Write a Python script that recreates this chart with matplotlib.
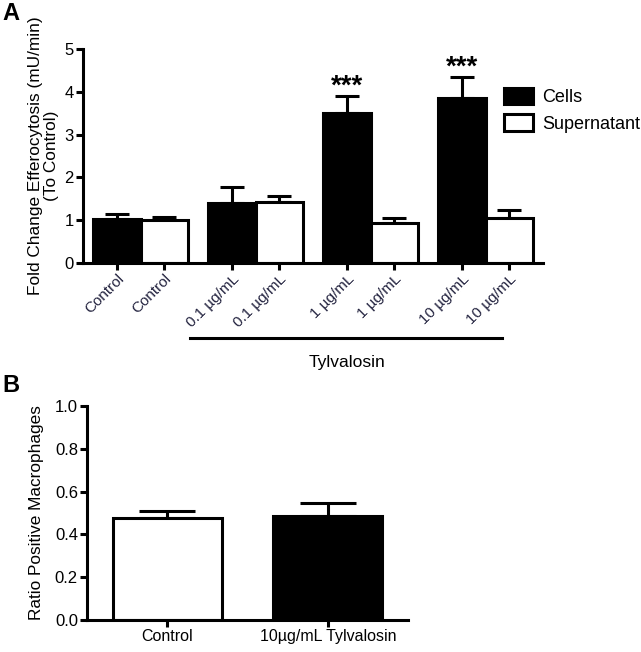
import matplotlib
matplotlib.use("Agg")
import matplotlib.pyplot as plt
import numpy as np

plt.rcParams['font.family'] = ['Liberation Sans', 'DejaVu Sans']

# Panel A data
groups = ["Control", "0.1 \u00b5g/mL", "1 \u00b5g/mL", "10 \u00b5g/mL"]
cells = [1.02, 1.40, 3.50, 3.86]
cells_err = [0.12, 0.38, 0.40, 0.49]
super_vals = [1.00, 1.42, 0.93, 1.05]
super_err = [0.08, 0.15, 0.12, 0.18]
stars = ["", "", "***", "***"]

# Panel B data
b_cats = ["Control", "10\u00b5g/mL Tylvalosin"]
b_vals = [0.477, 0.486]
b_err = [0.033, 0.061]
b_colors = ["white", "black"]

W, H = 641, 652
fig = plt.figure(figsize=(W/100, H/100), dpi=100)

lw = 2.2
tick_col = "#23233f"

# ---- Panel A ----
axA = fig.add_axes([83/W, 1-263/H, (543-83)/W, (263-49)/H])
x = np.arange(len(groups))
w = 0.41
errkw = dict(ecolor="black", elinewidth=lw, capsize=8.5, capthick=lw)
axA.bar(x - w/2, cells, w, color="black", edgecolor="black", linewidth=lw,
        label="Cells", zorder=2)
axA.errorbar(x - w/2, cells, yerr=[np.zeros(4), cells_err], fmt="none", **errkw, zorder=1)
axA.bar(x + w/2, super_vals, w, color="white", edgecolor="black", linewidth=lw,
        label="Supernatant", zorder=2)
axA.errorbar(x + w/2, super_vals, yerr=[np.zeros(4), super_err], fmt="none", **errkw, zorder=1)
for i, s in enumerate(stars):
    if s:
        axA.text(x[i] - w/2, cells[i] + cells_err[i] + 0.05, s, ha="center", va="baseline",
                 fontsize=20, fontweight="bold")
axA.set_xlim(-0.5, 3.5)
axA.set_ylim(0, 5)
axA.set_yticks([0, 1, 2, 3, 4, 5])
xt = np.ravel(np.column_stack([x - w/2, x + w/2]))
xl = [g for g in groups for _ in range(2)]
axA.set_xticks(xt)
axA.set_xticklabels(xl, rotation=45, ha="right", rotation_mode="anchor",
                    fontsize=11, color=tick_col)
for sp in ["top", "right"]:
    axA.spines[sp].set_visible(False)
for sp in ["left", "bottom"]:
    axA.spines[sp].set_linewidth(lw)
axA.tick_params(axis="both", width=lw, length=5, direction="out", pad=1.5)
axA.tick_params(axis="y", labelsize=12)
axA.set_ylabel("Fold Change Efferocytosis (mU/min)\n(To Control)", fontsize=12.4,
               labelpad=4, linespacing=1.05)
leg = axA.legend(loc="upper left", bbox_to_anchor=(504/W, 1-88/H),
                 bbox_transform=fig.transFigure, frameon=False,
                 fontsize=13, handlelength=1.6, handleheight=1.0, borderaxespad=0,
                 borderpad=0, labelspacing=0.45, handletextpad=0.5)
for h in leg.legend_handles:
    h.set_linewidth(lw)

# Tylvalosin line and label
fig.add_artist(plt.Line2D([190/W, 502/W], [1-338/H, 1-338/H],
                          color="black", linewidth=2.2))
fig.text(347/W, 1-363/H, "Tylvalosin", ha="center", va="center", fontsize=12.5)

fig.text(2/W, 1-14/H, "A", fontsize=17, fontweight="bold", va="center", ha="left")
fig.text(2/W, 1-385/H, "B", fontsize=17, fontweight="bold", va="center", ha="left")

# ---- Panel B ----
axB = fig.add_axes([87/W, 1-620/H, (408-87)/W, (620-406)/H])
xb = np.arange(len(b_cats))
axB.bar(xb, b_vals, 0.68, color=b_colors, edgecolor="black", linewidth=lw, zorder=2)
axB.errorbar(xb, b_vals, yerr=[np.zeros(2), b_err], fmt="none", ecolor="black",
             elinewidth=lw, capsize=20, capthick=lw, zorder=1)
axB.set_xlim(-0.5, 1.5)
axB.set_ylim(0, 1.0)
axB.set_yticks([0.0, 0.2, 0.4, 0.6, 0.8, 1.0])
axB.set_yticklabels(["0.0", "0.2", "0.4", "0.6", "0.8", "1.0"])
axB.set_xticks(xb)
axB.set_xticklabels(b_cats, fontsize=11.5)
for sp in ["top", "right"]:
    axB.spines[sp].set_visible(False)
for sp in ["left", "bottom"]:
    axB.spines[sp].set_linewidth(lw)
axB.tick_params(axis="both", width=lw, length=5, direction="out", pad=1.5)
axB.tick_params(axis="y", labelsize=12)
axB.set_ylabel("Ratio Positive Macrophages", fontsize=12.4, labelpad=8)

fig.savefig("out.png", dpi=100)
